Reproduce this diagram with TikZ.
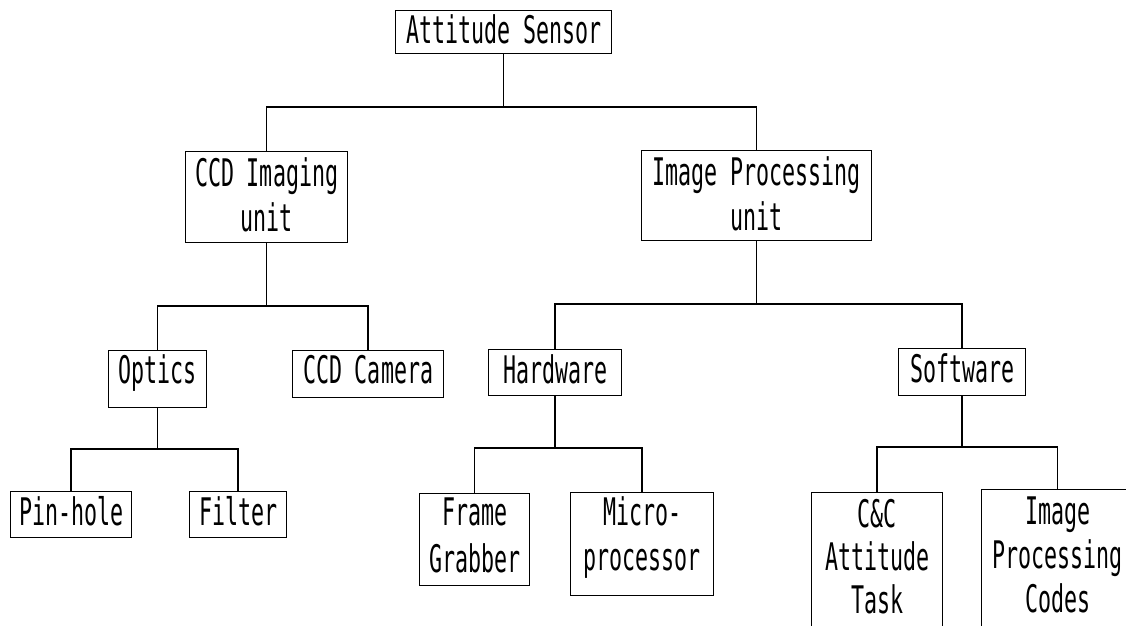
\documentclass[tikz,border=0pt]{standalone}
\usepackage{fontspec}
\newfontfamily\plotfont[FakeStretch=0.57]{DejaVu Sans Mono}
\tikzset{
  box/.style={draw, line width=1.4pt, inner sep=0pt, align=center, anchor=north west,
    font=\plotfont\fontsize{38}{45}\selectfont},
  link/.style={line width=1.5pt},
}
\begin{document}
\begin{tikzpicture}[x=1pt,y=-1pt]
\useasboundingbox (0,0) rectangle (1126,625);
\clip (0,0) rectangle (1126,625);
% boxes
\node[box, text width=216pt, text height=33pt, text depth=10pt] (att) at (395,10) {Attitude Sensor};
\node[box, text width=162pt, text height=35pt, text depth=56pt] (ccd) at (185,151) {CCD Imaging\\unit};
\node[box, text width=230pt, text height=35pt, text depth=55pt] (ipu) at (641,150) {Image Processing\\unit};
\node[box, text width=98pt, text height=33pt, text depth=24pt] (opt) at (108,350) {Optics};
\node[box, text width=151pt, text height=33pt, text depth=14pt] (cam) at (292,350) {CCD Camera};
\node[box, text width=133pt, text height=34pt, text depth=12pt] (hw) at (488,349) {Hardware};
\node[box, text width=127pt, text height=34pt, text depth=13pt] (sw) at (898,348) {Software};
\node[box, text width=121pt, text height=34pt, text depth=12pt] (pin) at (10,491) {Pin-hole};
\node[box, text width=97pt, text height=34pt, text depth=12pt] (fil) at (189,491) {Filter};
\node[box, text width=110pt, text height=32pt, text depth=60pt,
      font=\plotfont\fontsize{38}{47}\selectfont] (fg) at (419,493) {Frame\\Grabber};
\node[box, text width=143pt, text height=33pt, text depth=70pt] (mp) at (570,492) {Micro-\\processor};
\node[box, text width=131pt, text height=35pt, text depth=160pt,
      font=\plotfont\fontsize{38}{43}\selectfont] (cc) at (811,492) {C\&C\\Attitude\\Task};
\node[box, text width=152pt, text height=35pt, text depth=160pt,
      font=\plotfont\fontsize{38}{44}\selectfont] (ipc) at (981,489) {Image\\Processing\\Codes};
% bus levels
\coordinate (b1) at (0,107);
\coordinate (b2) at (0,306);
\coordinate (b3) at (0,304);
\coordinate (b4) at (0,449);
\coordinate (b5) at (0,448);
\coordinate (b6) at (0,447);
% connectors
\draw[link] (att.south) -- (att.south |- b1);
\draw[link] (ccd.north) |- (ipu.north |- b1) -- (ipu.north);
\draw[link] (ccd.south) -- (ccd.south |- b2);
\draw[link] (opt.north) |- (cam.north |- b2) -- (cam.north);
\draw[link] (ipu.south) -- (ipu.south |- b3);
\draw[link] (hw.north) |- (sw.north |- b3) -- (sw.north);
\draw[link] (opt.south) -- (opt.south |- b4);
\draw[link] (pin.north) |- (fil.north |- b4) -- (fil.north);
\draw[link] (hw.south) -- (hw.south |- b5);
\draw[link] (fg.north) |- (mp.north |- b5) -- (mp.north);
\draw[link] (sw.south) -- (sw.south |- b6);
\draw[link] (cc.north) |- (ipc.north |- b6) -- (ipc.north);
\end{tikzpicture}
\end{document}
